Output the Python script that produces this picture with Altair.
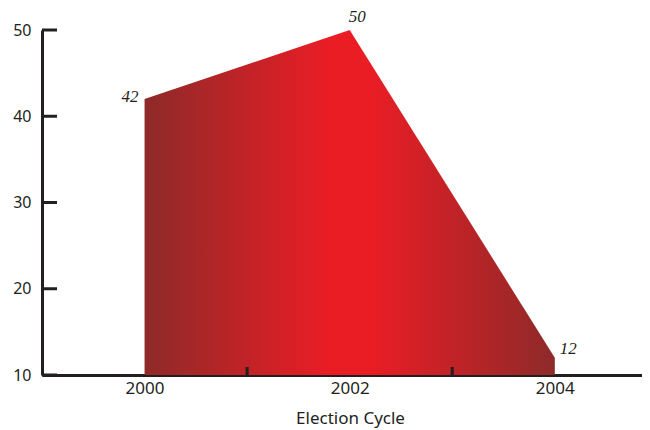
import altair as alt
import pandas as pd

years = [2000, 2002, 2004]
values = [42, 50, 12]
label_dx = [-6, -1, 5]
label_dy = [-2, -13, -9]
label_align = ["right", "left", "left"]
y_ticks = [10, 20, 30, 40, 50]
x_minor_ticks = [2001, 2003]
x_labels = [2000, 2002, 2004]

df = pd.DataFrame({"year": years, "value": values})
W, H = 600, 345

x_scale = alt.Scale(domain=[1999, 2004.85], nice=False, zero=False)
y_scale = alt.Scale(domain=[10, 50], nice=False, zero=False)

axis_color = "#231f20"

x_enc = alt.X("year:Q", scale=x_scale,
              axis=alt.Axis(values=x_labels, format="d", ticks=False, grid=False,
                            domainColor=axis_color, domainWidth=3,
                            labelFont="Noto Sans", labelFontSize=17, labelColor=axis_color,
                            labelPadding=5, title="Election Cycle",
                            titleFont="Noto Sans", titleFontSize=17, titleFontWeight="normal",
                            titleColor=axis_color, titlePadding=14,
                            titleX=308))
y_enc = alt.Y("value:Q", scale=y_scale,
              axis=alt.Axis(values=y_ticks, ticks=False, grid=False, title=None,
                            domainColor=axis_color, domainWidth=3,
                            labelFont="Noto Sans", labelFontSize=16, labelColor=axis_color,
                            labelPadding=11))

area = alt.Chart(df).mark_area(
    color=alt.Gradient(
        gradient="linear", x1=0, x2=1, y1=0, y2=0,
        stops=[alt.GradientStop(color="#8e2a29", offset=0),
               alt.GradientStop(color="#ea1d25", offset=0.45),
               alt.GradientStop(color="#ea1d25", offset=0.55),
               alt.GradientStop(color="#8e2a29", offset=1)]),
    opacity=1,
).encode(x=x_enc, y=y_enc, y2=alt.datum(10))

ytick_df = pd.DataFrame({"value": y_ticks})
yticks = alt.Chart(ytick_df).mark_rule(color=axis_color, strokeWidth=3).encode(
    y=alt.Y("value:Q", scale=y_scale), x=alt.value(0), x2=alt.value(15))

xtick_df = pd.DataFrame({"year": x_minor_ticks})
xticks = alt.Chart(xtick_df).mark_rule(color=axis_color, strokeWidth=3).encode(
    x=alt.X("year:Q", scale=x_scale), y=alt.value(H), y2=alt.value(H - 8))

texts = []
for i in range(len(years)):
    sub = pd.DataFrame({"year": [years[i]], "value": [values[i]], "label": [str(values[i])]})
    texts.append(alt.Chart(sub).mark_text(
        font="Liberation Serif", fontStyle="italic", fontSize=17, color=axis_color,
        align=label_align[i], baseline="middle", dx=label_dx[i], dy=label_dy[i]
    ).encode(x=alt.X("year:Q", scale=x_scale), y=alt.Y("value:Q", scale=y_scale),
             text="label:N"))

chart = alt.layer(area, yticks, xticks, *texts).properties(
    width=W, height=H,
    autosize=alt.AutoSizeParams(type="none"),
    padding={"left": 34, "top": 22, "right": 0, "bottom": 62},
).configure_view(stroke=None)

chart.save("out.html", embed_options={"renderer": "svg", "actions": False})
